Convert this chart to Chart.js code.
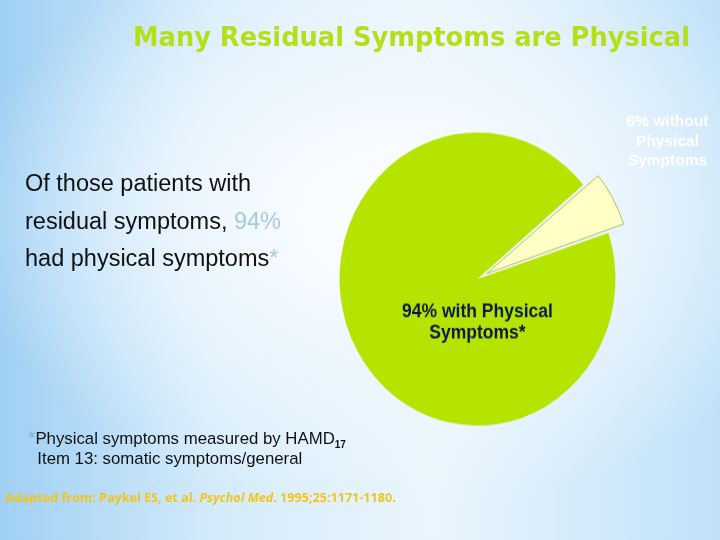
<!DOCTYPE html>
<html>
<head>
<meta charset="utf-8">
<script src="https://cdn.jsdelivr.net/npm/chart.js@4"></script>
<style>
  html, body { margin: 0; padding: 0; }
  body {
    width: 720px; height: 540px; position: relative; overflow: hidden;
    background:
      radial-gradient(ellipse 60% 55% at 55% 40%, rgba(255,255,255,1) 0%, rgba(240,248,254,0.9) 45%, rgba(210,234,250,0) 100%),
      linear-gradient(90deg, #9fd0f4 0%, #d4ebfb 30%, #eaf5fd 60%, #c0e1f8 100%);
  }
  #wrap { position: absolute; left: 0; top: 0; width: 720px; height: 540px; transform: scaleY(1.062); transform-origin: 0 279px; }
  .txt { position: absolute; white-space: nowrap; }
  #title { left: 133px; top: 22px; font-family: "DejaVu Sans", sans-serif; font-weight: bold; font-size: 25.7px; color: #b4df1a; }
  #body { left: 25px; top: 165px; font-family: "Liberation Sans", Arial, sans-serif; font-size: 23.5px; line-height: 37.5px; color: #111; }
  .blue { color: #a9c9df; }
  #note { left: 28px; top: 428px; font-family: "Liberation Sans", Arial, sans-serif; font-size: 16.8px; line-height: 20px; color: #111; }
  #note .ast { color: #7fb2dc; font-size: 19px; }
  #note sub { font-size: 10px; font-weight: bold; line-height: 0; }
  #cite { left: 5px; top: 489px; font-family: "Open Sans", sans-serif; font-weight: bold; font-size: 12.6px; color: #f2c51a; }
</style>
</head>
<body>
<div id="wrap"><canvas id="grafica" width="720" height="540"></canvas></div>
<div class="txt" id="title">Many Residual Symptoms are Physical</div>
<div class="txt" id="body">Of those patients with<br>residual symptoms, <span class="blue">94%</span><br>had physical symptoms<span class="blue">*</span></div>
<div class="txt" id="note"><span class="ast">*</span>Physical symptoms measured by HAMD<sub>17</sub><br>&nbsp;&nbsp;Item 13: somatic symptoms/general</div>
<div class="txt" id="cite">Adapted from: Paykel ES, et al. <i>Psychol Med</i>. 1995;25:1171-1180.</div>
<script>
const ctx = document.getElementById("grafica");

// datos del grafico
const categorias = ["6% without Physical Symptoms", "94% with Physical Symptoms*"];
const valores = [6, 94];
const colores = ["#ffffc6", "#b5e400"];

// dibuja las etiquetas de cada sector
const etiquetas = {
    id: "etiquetas",
    afterDatasetsDraw(chart) {
        const arcos = chart.getDatasetMeta(0).data;
        const c = chart.ctx;
        c.save();
        c.textAlign = "center";
        c.textBaseline = "middle";
        // sector pequeño: etiqueta fuera, arriba a la derecha
        const a0 = arcos[0];
        c.font = "bold 15.5px 'Liberation Sans', Arial, sans-serif";
        c.fillStyle = "#ffffff";
        ["6% without", "Physical", "Symptoms"].forEach((t, i) => {
            c.fillText(t, a0.x + 190, a0.y - 148 + i * 18.5);
        });
        // sector grande: etiqueta dentro
        const a1 = arcos[1];
        c.font = "bold 17.5px 'Liberation Sans', Arial, sans-serif";
        c.fillStyle = "#0d1a4a";
        ["94% with Physical", "Symptoms*"].forEach((t, i) => {
            c.fillText(t, a1.x, a1.y + 31 + i * 20);
        });
        c.restore();
    }
};

new Chart(ctx, {
    type: "pie",
    data: {
        labels: categorias,
        datasets: [
            {
                data: valores,
                backgroundColor: colores,
                borderColor: ["#9fb03a", "#b5e400"],
                borderWidth: [0.8, 0],
                offset: [42, 0]
            }
        ]
    },
    options: {
        responsive: false,
        animation: false,
        rotation: 50,
        radius: 138,
        layout: { padding: { left: 240, right: 5, top: 30, bottom: 12 } },
        plugins: {
            legend: { display: false },
            tooltip: { enabled: false }
        }
    },
    plugins: [etiquetas]
});
</script>
</body>
</html>
